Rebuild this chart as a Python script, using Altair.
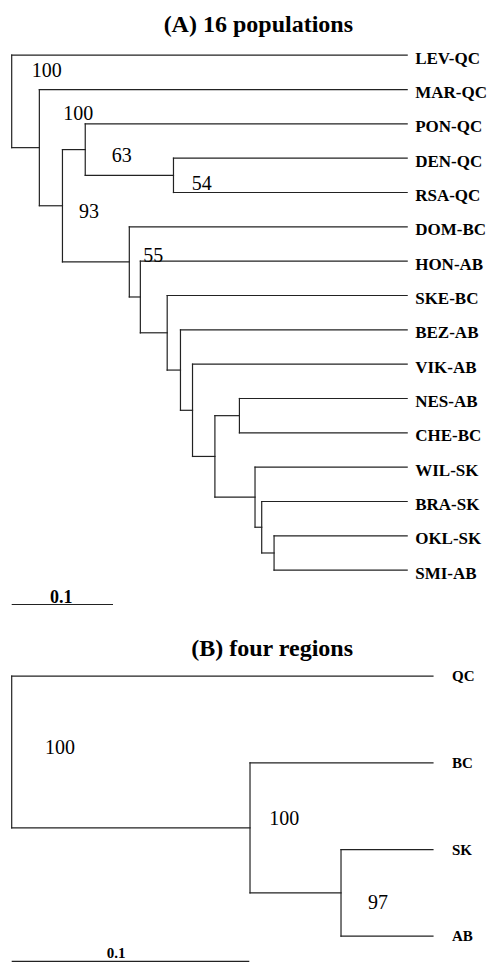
import altair as alt
import pandas as pd

# ---------------- Data: panel A (16 populations) ----------------
leaves_A = ["LEV-QC", "MAR-QC", "PON-QC", "DEN-QC", "RSA-QC", "DOM-BC",
            "HON-AB", "SKE-BC", "BEZ-AB", "VIK-AB", "NES-AB", "CHE-BC",
            "WIL-SK", "BRA-SK", "OKL-SK", "SMI-AB"]
nodes_A = ["n0", "n1", "n2", "n3", "n4", "n5", "n6", "n7", "n8", "n9",
           "n10", "n11", "n12", "n13", "n14"]
children_A = [["LEV-QC", "n1"], ["MAR-QC", "n2"], ["n3", "n5"],
              ["PON-QC", "n4"], ["DEN-QC", "RSA-QC"], ["DOM-BC", "n6"],
              ["HON-AB", "n7"], ["SKE-BC", "n8"], ["BEZ-AB", "n9"],
              ["VIK-AB", "n10"], ["n11", "n12"], ["NES-AB", "CHE-BC"],
              ["WIL-SK", "n13"], ["BRA-SK", "n14"], ["OKL-SK", "SMI-AB"]]
depth_A = [0.0, 0.0273, 0.0501, 0.0726, 0.1597, 0.1161, 0.1270, 0.1535,
           0.1666, 0.1785, 0.2006, 0.2248, 0.2402, 0.2468, 0.2590]
tip_A = 0.3904
boot_A = ["100", "100", "63", "54", "93", "55"]
boot_x_A = [0.0197, 0.0509, 0.0987, 0.1777, 0.0664, 0.1299]
boot_row_A = [0.425, 1.68, 2.91, 3.73, 4.54, 5.81]
scale_len_A = 0.1
scale_row_A = 16.0
scale_lab_x_A = 0.049

# ---------------- Data: panel B (four regions) ----------------
leaves_B = ["QC", "BC", "SK", "AB"]
nodes_B = ["m0", "m1", "m2"]
children_B = [["QC", "m1"], ["BC", "m2"], ["SK", "AB"]]
depth_B = [0.0, 0.1003, 0.1386]
tip_B = 0.1773
boot_B = ["100", "100", "97"]
boot_x_B = [0.0140, 0.1084, 0.1500]
boot_row_B = [0.817, 1.634, 2.60]
scale_len_B = 0.1
scale_row_B = 3.29
scale_lab_x_B = 0.044

# ---------------- Layout constants ----------------
W = 479
LINE = "#222222"
SERIF = "Liberation Serif"
X_OFF = 3.7           # px from plot left to root


def tree_tables(leaves, nodes, children, depth, tip):
    row = {lf: float(i) for i, lf in enumerate(leaves)}
    dmap = {lf: tip for lf in leaves}
    for n, d in zip(nodes, depth):
        dmap[n] = d
    kids = dict(zip(nodes, children))

    def r(n):
        if n not in row:
            a, b = kids[n]
            row[n] = (r(a) + r(b)) / 2.0
        return row[n]

    segs = []
    for n in nodes:
        a, b = kids[n]
        d = dmap[n]
        segs.append({"x": d, "x2": d, "y": r(a), "y2": r(b)})
        for c in (a, b):
            segs.append({"x": d, "x2": dmap[c], "y": r(c), "y2": r(c)})
    labs = pd.DataFrame({"x": [tip] * len(leaves),
                         "y": [row[lf] for lf in leaves],
                         "label": leaves})
    return pd.DataFrame(segs), labs


def panel(title, leaves, nodes, children, depth, tip, boot, bx, brow,
          slen, srow, slabx, unit, rowpx, r0, height, leaf_fs, leaf_dx,
          leaf_dy, sfs, sdy):
    segs, labs = tree_tables(leaves, nodes, children, depth, tip)
    x0 = -X_OFF / unit
    xs = alt.Scale(domain=[x0, x0 + W / unit], nice=False, zero=False)
    ys = alt.Scale(domain=[r0, r0 + height / rowpx], nice=False, zero=False,
                   reverse=True)
    boots = pd.DataFrame({"x": bx, "y": brow, "label": boot})
    sbar = pd.DataFrame({"x": [0.0], "x2": [slen], "y": [srow],
                         "lx": [slabx], "label": [f"{slen:g}"]})

    branches = alt.Chart(segs).mark_rule(
        color=LINE, strokeWidth=1.2, strokeCap="square").encode(
        x=alt.X("x:Q", scale=xs, axis=None), x2="x2:Q",
        y=alt.Y("y:Q", scale=ys, axis=None), y2="y2:Q")
    leaf_text = alt.Chart(labs).mark_text(
        align="left", baseline="middle", dx=leaf_dx, dy=leaf_dy, font=SERIF,
        fontWeight="bold", fontSize=leaf_fs, color="black").encode(
        x=alt.X("x:Q", scale=xs, axis=None),
        y=alt.Y("y:Q", scale=ys, axis=None), text="label:N")
    boot_text = alt.Chart(boots).mark_text(
        align="left", baseline="middle", dy=1, font=SERIF, fontSize=20,
        color="black").encode(
        x=alt.X("x:Q", scale=xs, axis=None),
        y=alt.Y("y:Q", scale=ys, axis=None), text="label:N")
    bar = alt.Chart(sbar).mark_rule(color=LINE, strokeWidth=1.2).encode(
        x=alt.X("x:Q", scale=xs, axis=None), x2="x2:Q",
        y=alt.Y("y:Q", scale=ys, axis=None))
    bar_text = alt.Chart(sbar).mark_text(
        align="center", baseline="alphabetic", dy=sdy, font=SERIF,
        fontWeight="bold", fontSize=sfs, color="black").encode(
        x=alt.X("lx:Q", scale=xs, axis=None),
        y=alt.Y("y:Q", scale=ys, axis=None), text="label:N")

    return alt.layer(branches, leaf_text, boot_text, bar, bar_text).properties(
        width=W, height=height,
        title=alt.TitleParams(title, font=SERIF, fontSize=24,
                              fontWeight="bold", color="black",
                              anchor="end", dx=-134, offset=2.5,
                              frame="group"))


TOP_A, TOP_B = 39.5, 663.8
ROW_A, ROW_B = 34.33, 86.67
UNIT_A, UNIT_B = 1013.0, 2376.0
H_A = 581
H_B = 298
r0_A = (TOP_A - 55.7) / ROW_A
r0_B = (TOP_B - 676.7) / ROW_B

chart_A = panel("(A) 16 populations", leaves_A, nodes_A, children_A, depth_A,
                tip_A, boot_A, boot_x_A, boot_row_A, scale_len_A, scale_row_A,
                scale_lab_x_A, UNIT_A, ROW_A, r0_A, H_A, 17, 8, 3.5, 18, -1.5)
chart_B = panel("(B) four regions", leaves_B, nodes_B, children_B, depth_B,
                tip_B, boot_B, boot_x_B, boot_row_B, scale_len_B, scale_row_B,
                scale_lab_x_B, UNIT_B, ROW_B, r0_B, H_B, 15, 19, 0, 15, -3)

chart = alt.vconcat(chart_A, chart_B, spacing=TOP_B - (TOP_A + H_A),
                    bounds="flush").properties(
    padding={"top": 4, "left": 0, "right": 0, "bottom": 0},
    background="white",
).configure_view(strokeWidth=0)

chart.save("out.html", embed_options={"renderer": "svg", "actions": False})
